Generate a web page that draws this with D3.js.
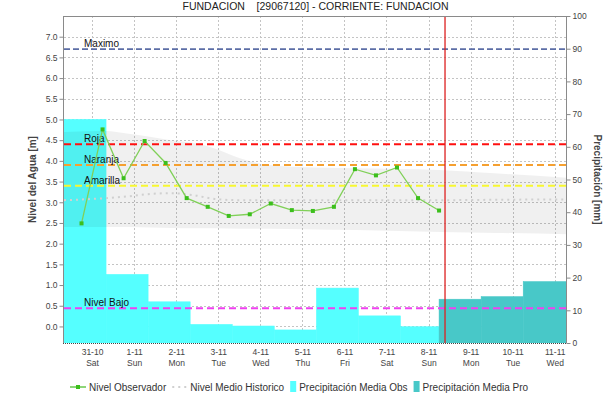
<!DOCTYPE html>
<html><head><meta charset="utf-8">
<script src="https://cdn.jsdelivr.net/npm/d3@7"></script>
<style>
body{margin:0;background:#fff}
svg{display:block;font-family:"Liberation Sans",Arial,Helvetica,sans-serif}
</style>
</head><body>
<svg id="chart" width="615" height="411"></svg>
<script>
// ---------------- DATA ----------------
const title = "FUNDACION    [29067120] - CORRIENTE: FUNDACION";
const dayLabels = ["31-10","1-11","2-11","3-11","4-11","5-11","6-11","7-11","8-11","9-11","10-11","11-11"];
const weekDays  = ["Sat","Sun","Mon","Tue","Wed","Thu","Fri","Sat","Sun","Mon","Tue","Wed"];
const dayHours  = [0,24,48,72,96,120,144,168,192,216,240,264];   // hours from 31-10 00:00
const levelTicks  = [0,0.5,1,1.5,2,2.5,3,3.5,4,4.5,5,5.5,6,6.5,7];
const precipTicks = [0,10,20,30,40,50,60,70,80,90,100];

// Observed water level (every 12 h)
const obsHours = [-6,6,18,30,42,54,66,78,90,102,114,126,138,150,162,174,186,198];
const obsLevel = [2.49,4.76,3.58,4.48,3.95,3.10,2.89,2.67,2.71,2.97,2.81,2.79,2.89,3.80,3.65,3.84,3.10,2.80];

// Historic level envelope and mean
const histHours = [-16,8,20,33,45,58,70,84,101,119,150,198,230,271];
const histMax   = [4.70,4.72,4.66,4.58,4.50,4.43,4.30,4.07,3.90,3.85,3.82,3.78,3.70,3.59];
const histMin   = [2.40,2.40,2.40,2.39,2.38,2.37,2.37,2.36,2.36,2.35,2.33,2.28,2.26,2.23];
const histMean  = [3.05,3.10,3.14,3.20,3.22,3.17,3.08,3.05,3.05,3.05,3.05,3.05,3.06,3.07];

// Precipitation (mm)
const precipObsStart = [-16,8,32,56,80,104,128,152,176];
const precipObsEnd   = [8,32,56,80,104,128,152,176,198];
const precipObs      = [68.4,21.0,12.6,5.7,5.2,4.0,16.8,8.3,5.0];
const precipProStart = [198,222,246];
const precipProEnd   = [222,246,271];
const precipPro      = [13.4,14.2,18.8];

// Alert thresholds (m)
const thresholdNames  = ["Maximo","Roja","Naranja","Amarilla","Nivel Bajo"];
const thresholdValues = [6.7,4.4,3.9,3.4,0.44];
const thresholdColors = ["#5c6ea6","#ff1010","#f5a030","#f7f730","#f040f0"];

const nowHour = 201.4;
const legendNames = ["Nivel Observador","Nivel Medio Historico","Precipitación Media Obs","Precipitación Media Pro"];

// ---------------- LAYOUT ----------------
const L = 64, R = 567, T = 16, B = 343;
const svg = d3.select("#chart");

const x  = d3.scaleLinear().domain([-16, 271]).range([L, R]);
const yL = d3.scaleLinear().domain([-0.4, 7.5]).range([B, T]);
const yR = d3.scaleLinear().domain([0, 100]).range([B, T]);

svg.append("defs").append("clipPath").attr("id","clip")
  .append("rect").attr("x",L).attr("y",T).attr("width",R-L).attr("height",B-T);

const plot = svg.append("g").attr("clip-path","url(#clip)");

// grid
const gridColor = "#c4c4c4";
plot.append("g").selectAll("line").data(levelTicks).join("line")
  .attr("x1",L).attr("x2",R)
  .attr("y1",d=>Math.round(yL(d))+0.5).attr("y2",d=>Math.round(yL(d))+0.5)
  .attr("stroke",gridColor).attr("stroke-dasharray","2,2");
plot.append("g").selectAll("line").data(dayHours).join("line")
  .attr("y1",T).attr("y2",B)
  .attr("x1",d=>Math.round(x(d))+0.5).attr("x2",d=>Math.round(x(d))+0.5)
  .attr("stroke",gridColor).attr("stroke-dasharray","2,2");

// precipitation bars
const obsBars = precipObs.map((v,i)=>({s:precipObsStart[i],e:precipObsEnd[i],v}));
const proBars = precipPro.map((v,i)=>({s:precipProStart[i],e:precipProEnd[i],v}));
plot.append("g").selectAll("rect").data(obsBars).join("rect")
  .attr("x",d=>x(d.s)).attr("width",d=>x(d.e)-x(d.s))
  .attr("y",d=>yR(d.v)).attr("height",d=>yR(0)-yR(d.v))
  .attr("fill","#55ffff").attr("stroke","#55ffff").attr("stroke-width",0.5);
plot.append("g").selectAll("rect").data(proBars).join("rect")
  .attr("x",d=>x(d.s)).attr("width",d=>x(d.e)-x(d.s))
  .attr("y",d=>yR(d.v)).attr("height",d=>yR(0)-yR(d.v))
  .attr("fill","#48c8c8").attr("stroke","#48c8c8").attr("stroke-width",0.5);

// historic envelope
const hist = histHours.map((h,i)=>({h,max:histMax[i],min:histMin[i],mean:histMean[i]}));
plot.append("path").datum(hist)
  .attr("d", d3.area().x(d=>x(d.h)).y0(d=>yL(d.min)).y1(d=>yL(d.max)).curve(d3.curveMonotoneX))
  .attr("fill","#000").attr("fill-opacity",0.06);
plot.append("path").datum(hist)
  .attr("d", d3.line().x(d=>x(d.h)).y(d=>yL(d.mean)).curve(d3.curveMonotoneX))
  .attr("fill","none").attr("stroke","#d0d0d0").attr("stroke-width",2).attr("stroke-dasharray","2,4");

// thresholds
const thr = thresholdNames.map((n,i)=>({n,v:thresholdValues[i],c:thresholdColors[i]}));
const tg = plot.append("g");
tg.selectAll("line").data(thr).join("line")
  .attr("x1",L).attr("x2",R)
  .attr("y1",d=>yL(d.v)).attr("y2",d=>yL(d.v))
  .attr("stroke",d=>d.c).attr("stroke-width",(d,i)=>i===0?1.6:2)
  .attr("stroke-dasharray",(d,i)=>i===0?"6,3":"7,4");
tg.selectAll("text").data(thr).join("text")
  .attr("x",84).attr("y",d=>yL(d.v)-2)
  .attr("font-size",10).attr("fill","#111").text(d=>d.n);

// observed level
const obs = obsHours.map((h,i)=>({h,v:obsLevel[i]}));
plot.append("path").datum(obs)
  .attr("d", d3.line().x(d=>x(d.h)).y(d=>yL(d.v)))
  .attr("fill","none").attr("stroke","#80d058").attr("stroke-width",1.3);
plot.append("g").selectAll("rect").data(obs).join("rect")
  .attr("x",d=>x(d.h)-2).attr("y",d=>yL(d.v)-2).attr("width",4).attr("height",4)
  .attr("fill","#3cbf1c");

// now line
svg.append("line").attr("x1",x(nowHour)).attr("x2",x(nowHour)).attr("y1",T).attr("y2",B)
  .attr("stroke","#dd2020").attr("stroke-width",1.3);

// ---------------- AXES ----------------
const axisColor = "#8a8a8a", labelColor = "#444";
const gl = svg.append("g").attr("transform",`translate(${L-0.5},0)`)
  .call(d3.axisLeft(yL).tickValues(levelTicks).tickFormat(d3.format(".1f")).tickSize(4).tickSizeOuter(0).tickPadding(2));
const gr = svg.append("g").attr("transform",`translate(${R-0.5},0)`)
  .call(d3.axisRight(yR).tickValues(precipTicks).tickSize(4).tickSizeOuter(0).tickPadding(2));
[gl,gr].forEach(g=>{
  g.select(".domain").attr("stroke",axisColor).attr("d", `M0,${T}V${B}`);
  g.selectAll(".tick line").attr("stroke",axisColor);
  g.selectAll(".tick text").attr("fill",labelColor).attr("font-size",8.5).attr("font-family",null);
  g.attr("font-family",null);
});
// top border
svg.append("line").attr("x1",L-0.5).attr("x2",R-0.5).attr("y1",T+0.5).attr("y2",T+0.5).attr("stroke",axisColor);

const gb = svg.append("g").attr("transform",`translate(0,${B})`)
  .call(d3.axisBottom(x).tickValues(dayHours).tickSize(0).tickPadding(6).tickFormat((d,i)=>dayLabels[i]));
gb.attr("font-family",null);
gb.select(".domain").attr("stroke","#444").attr("stroke-dasharray","1,1").attr("d",`M${L-1},0.5H${R}`);
gb.selectAll(".tick text").attr("fill",labelColor).attr("font-size",8.5).each(function(d,i){
  const t = d3.select(this);
  t.append("tspan").attr("x",0).attr("dy","1.25em").text(weekDays[i]);
});

// axis titles
svg.append("text").attr("transform",`translate(36,${(T+B)/2}) rotate(-90)`)
  .attr("text-anchor","middle").attr("font-size",10).attr("font-weight","bold").attr("fill",labelColor)
  .text("Nivel del Agua [m]");
svg.append("text").attr("transform",`translate(594,${(T+B)/2}) rotate(90)`)
  .attr("text-anchor","middle").attr("font-size",10).attr("font-weight","bold").attr("fill",labelColor)
  .text("Precipitación [mm]");

// title
svg.append("text").attr("x",(L+R)/2).attr("y",9.5).attr("text-anchor","middle")
  .attr("font-size",10.5).attr("fill","#222").attr("xml:space","preserve").style("white-space","pre")
  .text(title);

// ---------------- LEGEND ----------------
const lg = svg.append("g").attr("font-size",10).attr("fill","#333");
let lx = 70; const ly = 387;
legendNames.forEach((name,i)=>{
  if(i===0){
    lg.append("line").attr("x1",lx).attr("x2",lx+16).attr("y1",ly).attr("y2",ly).attr("stroke","#50c030").attr("stroke-width",1.3);
    lg.append("rect").attr("x",lx+6).attr("y",ly-2).attr("width",4).attr("height",4).attr("fill","#3cbf1c");
    lx += 19;
  } else if(i===1){
    lg.append("line").attr("x1",lx).attr("x2",lx+14).attr("y1",ly).attr("y2",ly).attr("stroke","#d0d0d0").attr("stroke-width",2).attr("stroke-dasharray","2,4");
    lx += 18;
  } else {
    lg.append("rect").attr("x",lx).attr("y",ly-6).attr("width",6).attr("height",11).attr("fill",i===2?"#55ffff":"#48c8c8");
    lx += 9;
  }
  const t = lg.append("text").attr("x",lx).attr("y",ly+3.5).text(name);
  lx += t.node().getComputedTextLength() + 6;
});
</script>
</body></html>
